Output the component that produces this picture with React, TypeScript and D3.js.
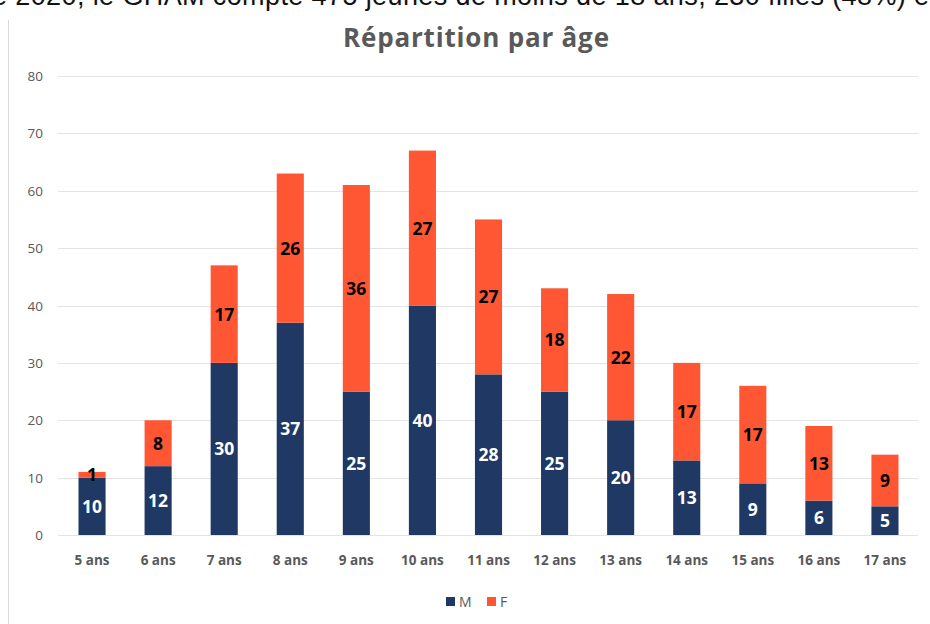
import { useEffect, useRef } from "react";
import * as d3 from "d3";

const categories = ["5 ans", "6 ans", "7 ans", "8 ans", "9 ans", "10 ans", "11 ans", "12 ans", "13 ans", "14 ans", "15 ans", "16 ans", "17 ans"];
const maleValues = [10, 12, 30, 37, 25, 40, 28, 25, 20, 13, 9, 6, 5];
const femaleValues = [1, 8, 17, 26, 36, 27, 27, 18, 22, 17, 17, 13, 9];
const yTicks = [0, 10, 20, 30, 40, 50, 60, 70, 80];
const seriesNames = ["M", "F"];

const W = 930;
const H = 624;
const NAVY = "#1f3864";
const RED = "#ff5733";
const GREY = "#595959";

const App = () => {
  const ref = useRef<SVGSVGElement>(null);

  useEffect(() => {
    if (!ref.current) return;
    const svg = d3.select(ref.current);
    svg.selectAll("*").remove();

    svg.append("rect").attr("width", W).attr("height", H).attr("fill", "#fff");

    // intro sentence, cut off at the top like in the screenshot
    svg
      .append("text")
      .attr("x", -8)
      .attr("y", 5)
      .attr("font-family", "Liberation Sans, Arial, sans-serif")
      .attr("font-size", 27)
      .attr("fill", "#111")
      .attr("textLength", 945)
      .text("e 2020, le GHAM compte 475 jeunes de moins de 18 ans, 230 filles (48%) et");

    // frame line on the left
    svg
      .append("line")
      .attr("x1", 8.5)
      .attr("x2", 8.5)
      .attr("y1", 20)
      .attr("y2", H)
      .attr("stroke", "#d9d9d9");

    svg
      .append("text")
      .attr("x", 476)
      .attr("y", 47)
      .attr("text-anchor", "middle")
      .attr("font-family", "Open Sans, sans-serif")
      .attr("font-weight", 700)
      .attr("font-size", 26)
      .attr("fill", GREY)
      .attr("textLength", 266)
      .text("Répartition par âge");

    const x = d3.scaleBand().domain(categories).range([59, 918]).paddingInner(0.59).paddingOuter(0.295);
    const y = d3.scaleLinear().domain([0, 80]).range([535, 76]);

    const grid = svg.append("g");
    yTicks.forEach((t) => {
      grid
        .append("line")
        .attr("x1", 58)
        .attr("x2", 918)
        .attr("y1", Math.round(y(t)) + 0.5)
        .attr("y2", Math.round(y(t)) + 0.5)
        .attr("stroke", "#e3e3e3");
      grid
        .append("text")
        .attr("x", 43)
        .attr("y", y(t) + 5)
        .attr("text-anchor", "end")
        .attr("font-family", "Open Sans, sans-serif")
        .attr("font-size", 13.5)
        .attr("fill", GREY)
        .text(t);
    });

    const rows = categories.map((c, i) => ({ cat: c, M: maleValues[i], F: femaleValues[i] }));
    const stacked = d3.stack<any>().keys(seriesNames)(rows);
    const colors = [NAVY, RED];
    const labelColors = ["#fff", "#000"];

    stacked.forEach((layer, li) => {
      const g = svg.append("g");
      layer.forEach((d) => {
        const cx = x(d.data.cat)!;
        g.append("rect")
          .attr("x", cx)
          .attr("y", y(d[1]))
          .attr("width", x.bandwidth())
          .attr("height", y(d[0]) - y(d[1]))
          .attr("fill", colors[li]);
      });
      layer.forEach((d) => {
        const cx = x(d.data.cat)! + x.bandwidth() / 2;
        g.append("text")
          .attr("x", cx)
          .attr("y", (y(d[0]) + y(d[1])) / 2 + 6.5)
          .attr("text-anchor", "middle")
          .attr("font-family", "Open Sans, sans-serif")
          .attr("font-weight", 700)
          .attr("font-size", 17.5)
          .attr("fill", labelColors[li])
          .text(d[1] - d[0]);
      });
    });

    svg
      .append("g")
      .selectAll("text")
      .data(categories)
      .join("text")
      .attr("x", (d) => x(d)! + x.bandwidth() / 2)
      .attr("y", 565)
      .attr("text-anchor", "middle")
      .attr("font-family", "Open Sans, sans-serif")
      .attr("font-weight", 700)
      .attr("font-size", 13.5)
      .attr("fill", GREY)
      .text((d) => d);

    const legend = svg.append("g");
    const legendX = [446, 487];
    seriesNames.forEach((s, i) => {
      legend
        .append("rect")
        .attr("x", legendX[i])
        .attr("y", 597)
        .attr("width", 9)
        .attr("height", 9)
        .attr("fill", colors[i]);
      legend
        .append("text")
        .attr("x", legendX[i] + 13)
        .attr("y", 607)
        .attr("font-family", "Open Sans, sans-serif")
        .attr("font-size", 14)
        .attr("fill", GREY)
        .text(s);
    });
  }, []);

  return (
    <svg
      ref={ref}
      width={W}
      height={H}
      style={{ position: "absolute", left: 0, top: 0 }}
    />
  );
};

export default App;
